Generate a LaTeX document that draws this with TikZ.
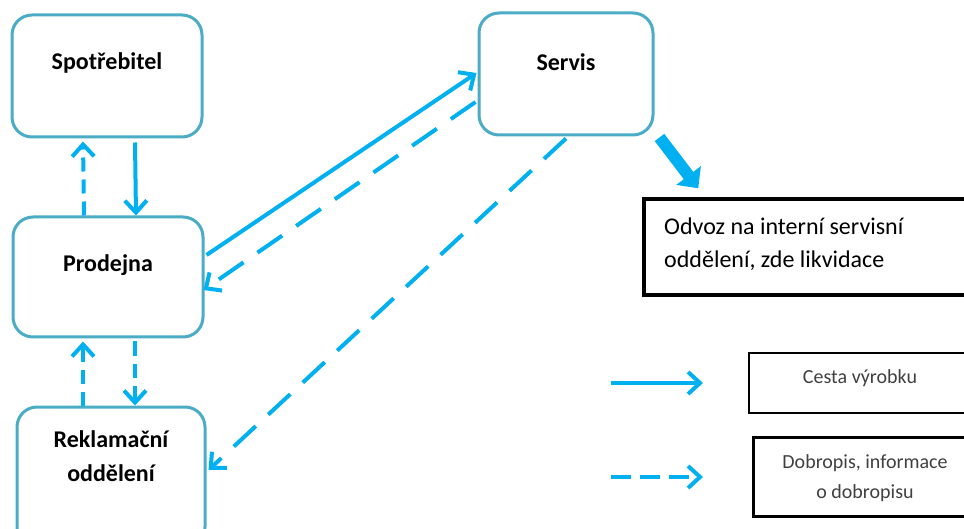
\documentclass[tikz,border=0pt]{standalone}
\usepackage{fontspec}
\setmainfont{Carlito}
\usetikzlibrary{arrows.meta}
\definecolor{boxblue}{HTML}{4BACC6}
\definecolor{arrblue}{HTML}{00B0F0}
\tikzset{
  ebox/.style={draw=boxblue, line width=3pt, rounded corners=20pt, fill=white, inner sep=0pt},
  btext/.style={font=\fontsize{24}{34}\selectfont\bfseries, align=center, inner sep=0pt},
  flow/.style={draw=arrblue, line width=4pt, -{Straight Barb[length=12pt, width=22pt]}},
  info/.style={flow, dash pattern=on 30pt off 17pt},
  infoshort/.style={flow, dash pattern=on 14pt off 8pt},
  blackbox/.style={draw=black, line width=3.5pt, fill=white, inner sep=0pt},
  legtext/.style={font=\fontsize{20}{30}\selectfont, text=black!75, align=center, inner sep=0pt},
}
\begin{document}
\begin{tikzpicture}[x=1pt, y=-1pt]
\useasboundingbox (0,0) rectangle (964,529);
\clip (0,0) rectangle (964,529);
% boxes
\node[ebox, minimum width=190pt, minimum height=122pt] (spot) at (107,76) {};
\node[btext] (spott) at (107,63) {Spotřebitel};
\node[ebox, minimum width=190pt, minimum height=120pt] (prod) at (108,277) {};
\node[btext] (prodt) at (108,265) {Prodejna};
\node[ebox, minimum width=188pt, minimum height=140pt] (rekl) at (111,477) {};
\node[btext] (reklt) at (111,456) {Reklamační\\oddělení};
\node[ebox, minimum width=174pt, minimum height=122pt] (serv) at (566,74) {};
\node[btext] (servt) at (566,62) {Servis};
% odvoz box
\node[blackbox, minimum width=340pt, minimum height=96pt] (odv) at (814,247) {};
\node[font=\fontsize{24}{33}\selectfont, align=left, anchor=west, inner sep=0pt] (odvt) at (664,244) {Odvoz na interní servisní\\oddělení, zde likvidace};
% legend boxes
\node[blackbox, line width=2.5pt, minimum width=230pt, minimum height=60pt] (leg1) at (864,383) {};
\node[legtext] (leg1t) at (860,378) {Cesta výrobku};
\node[blackbox, line width=2.5pt, minimum width=225pt, minimum height=79pt] (leg2) at (866,477) {};
\node[legtext] (leg2t) at (865,478) {Dobropis, informace\\o dobropisu};
% vertical arrows
\draw[flow] ([xshift=28pt,yshift=-4pt]spot.south) -- ([xshift=28pt]prod.north);
\draw[infoshort] ([xshift=-24pt]prod.north) -- ([xshift=-24pt,yshift=-3pt]spot.south);
\draw[infoshort] ([xshift=27pt,yshift=-3pt]prod.south) -- ([xshift=24pt]rekl.north);
\draw[infoshort] ([xshift=-28pt]rekl.north) -- ([xshift=-25pt,yshift=-3pt]prod.south);
% diagonal arrows
\draw[flow] ([xshift=2pt,yshift=22pt]prod.east) -- ([xshift=-1pt,yshift=1pt]serv.west);
\draw[info] ([xshift=-2pt,yshift=-28pt]serv.west) -- ([xshift=-1pt,yshift=-13pt]prod.east);
\draw[info] ([yshift=-2pt]serv.south) -- ([xshift=2pt,yshift=7pt]rekl.east);
% thick arrow
\draw[draw=arrblue, line width=12pt, -{Triangle[length=16pt, width=30pt]}] ([xshift=5pt,yshift=-1pt]serv.south east) -- ([xshift=56pt,yshift=9pt]odv.north west);
% legend arrows
\coordinate (l1a) at (611,383);
\coordinate (l1b) at (703,383);
\coordinate (l2a) at (611,477);
\coordinate (l2b) at (703,477);
\draw[flow] (l1a) -- (l1b);
\draw[flow, dash pattern=on 20pt off 9pt] (l2a) -- (l2b);
\end{tikzpicture}
\end{document}
